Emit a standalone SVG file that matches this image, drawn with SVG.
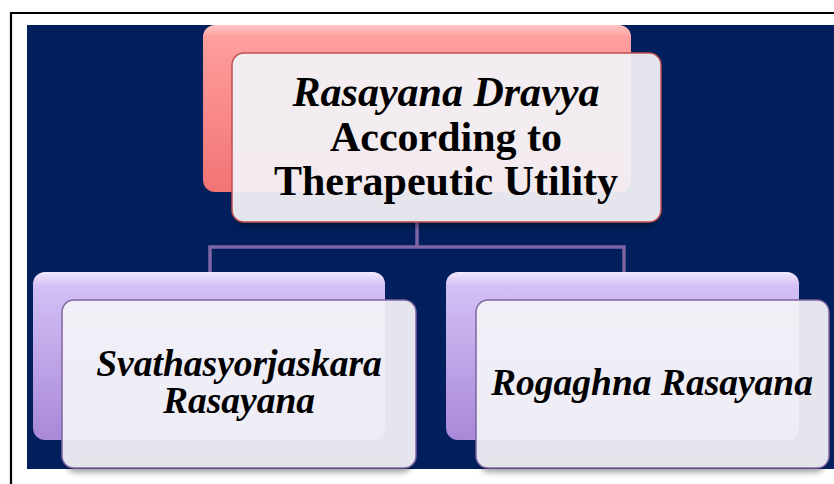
<svg xmlns="http://www.w3.org/2000/svg" width="834" height="484" viewBox="0 0 834 484">
<defs>
<linearGradient id="gRed" x1="0" y1="0" x2="0" y2="1">
<stop offset="0" stop-color="#FFC6C6"/>
<stop offset="0.07" stop-color="#FF9E9E"/>
<stop offset="1" stop-color="#F27474"/>
</linearGradient>
<linearGradient id="gPur" x1="0" y1="0" x2="0" y2="1">
<stop offset="0" stop-color="#F1E9FF"/>
<stop offset="0.08" stop-color="#D3C0F5"/>
<stop offset="1" stop-color="#A888D8"/>
</linearGradient>
<filter id="bl" x="-10%" y="-50%" width="120%" height="200%">
<feGaussianBlur stdDeviation="3"/>
</filter>
</defs>
<style>
.t{font-family:"Liberation Serif","Times New Roman",serif;font-weight:bold;fill:#000;text-anchor:middle}
.h{font-size:42px}
.s{font-size:37.5px}
.i{font-style:italic}
.front{fill:#F2F2F6;fill-opacity:0.94}
.fr{stroke:#C0504D;stroke-width:1.5}
.fp{stroke:#8064A2;stroke-width:1.5}
.shd{fill:#000;opacity:0.4}
.cn{fill:none;stroke:#7F64A4;stroke-width:3.5}
</style>
<rect x="0" y="0" width="834" height="484" fill="#FFFFFF"/>
<path d="M11 484 V13 H834" fill="none" stroke="#000" stroke-width="2.2"/>
<rect x="27" y="25" width="807" height="444" fill="#001F5C"/>
<g id="connectors">
<path class="cn" d="M417 222 V247"/>
<path class="cn" d="M210 272 V247 H624 V272"/>
</g>
<g id="root">
<rect x="203" y="25" width="428" height="167" rx="12" fill="url(#gRed)"/>
<rect class="shd" x="238" y="212" width="417" height="14" rx="6" filter="url(#bl)"/>
<rect x="232" y="53" width="429" height="169" rx="12" class="front fr"/>
<text class="t h i" x="446" y="106">Rasayana Dravya</text>
<text class="t h" x="446" y="151">According to</text>
<text class="t h" x="446" y="195">Therapeutic Utility</text>
</g>
<g id="left">
<rect x="33" y="272" width="352" height="168" rx="12" fill="url(#gPur)"/>
<rect class="shd" x="68" y="458" width="342" height="14" rx="6" filter="url(#bl)"/>
<rect x="62" y="300" width="354" height="168" rx="12" class="front fp"/>
<text class="t s i" x="239" y="376">Svathasyorjaskara</text>
<text class="t s i" x="239" y="413">Rasayana</text>
</g>
<g id="right">
<rect x="446" y="272" width="353" height="168" rx="12" fill="url(#gPur)"/>
<rect class="shd" x="482" y="458" width="341" height="14" rx="6" filter="url(#bl)"/>
<rect x="476" y="300" width="353" height="168" rx="12" class="front fp"/>
<text class="t s i" x="652" y="395">Rogaghna Rasayana</text>
</g>
</svg>
